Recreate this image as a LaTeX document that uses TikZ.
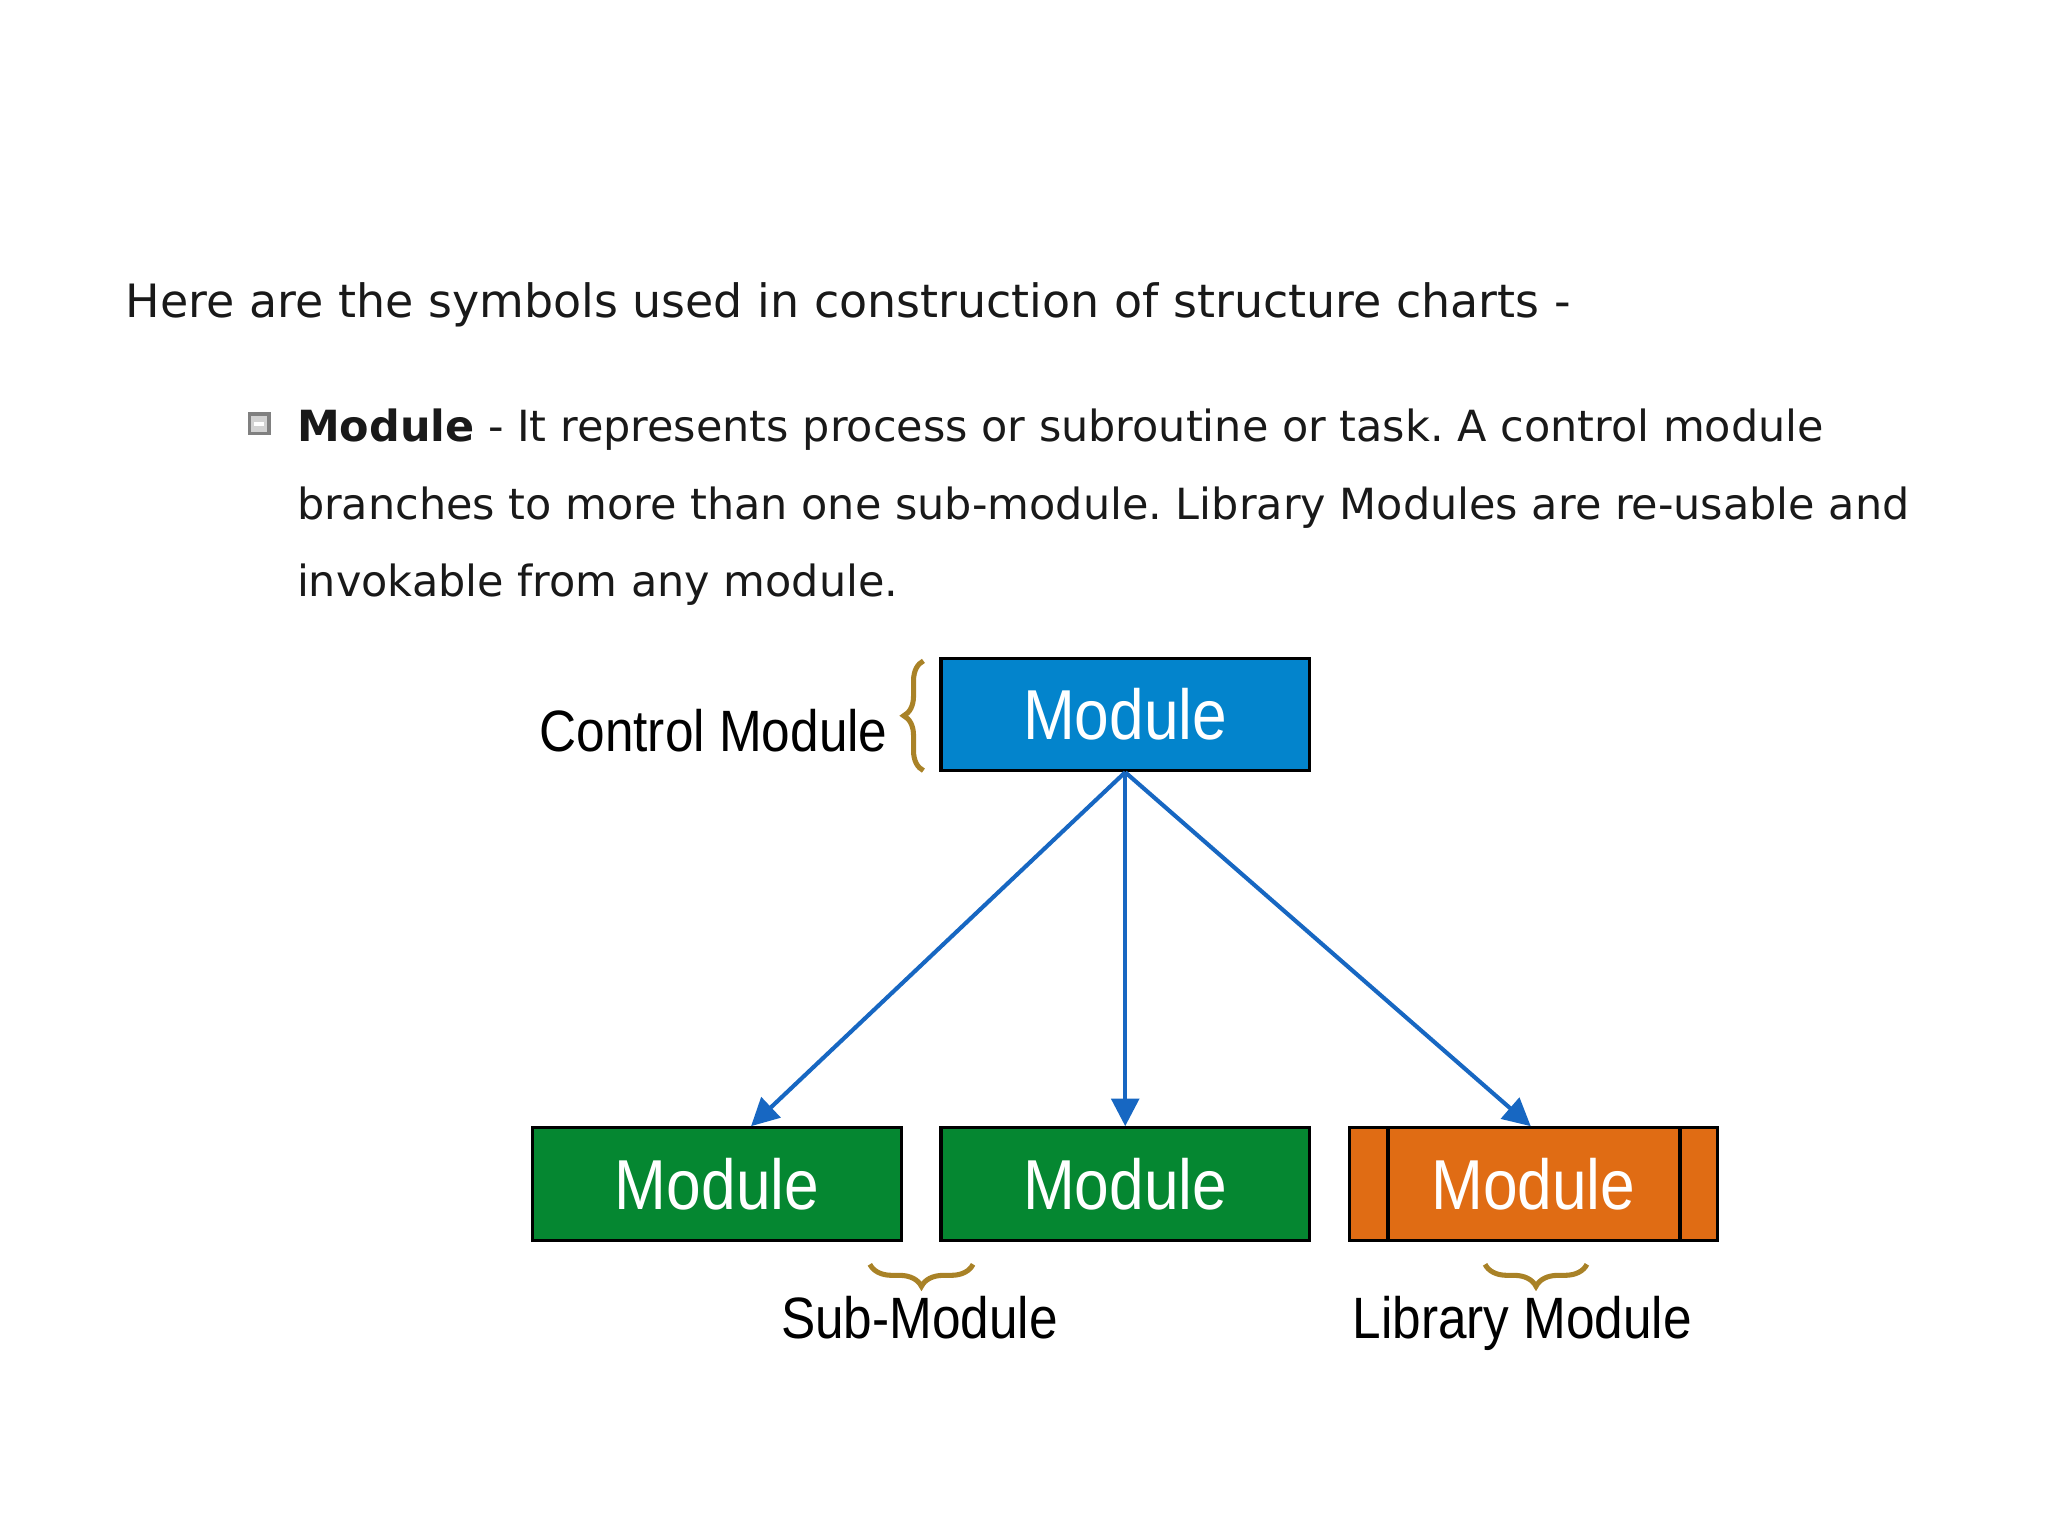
\documentclass[tikz,border=0pt]{standalone}
\usepackage{fontspec}
\usepackage{tikz}
\usetikzlibrary{arrows.meta, decorations.pathreplacing, positioning}
\newfontfamily\verd{DejaVu Sans}
\newfontfamily\arialn[FakeStretch=0.88]{Liberation Sans}
\definecolor{ctrlblue}{HTML}{0384CC}
\definecolor{subgreen}{HTML}{058731}
\definecolor{liborange}{HTML}{E06C14}
\definecolor{arrowblue}{HTML}{1767C2}
\definecolor{bracegold}{HTML}{A98227}
\tikzset{>=stealth}
\frenchspacing
\begin{document}
\begin{tikzpicture}[x=0.01cm, y=-0.01cm, thick,
	module/.style={draw=black, line width=0.7pt, minimum width=2.82cm, minimum height=0.86cm,
		inner sep=0pt, text=white, font=\arialn\fontsize{15.4pt}{15.4pt}\selectfont},
	label/.style={inner sep=0pt, font=\arialn\fontsize{12.7pt}{12.7pt}\selectfont},
	para/.style={inner sep=0pt, anchor=base west, text=black!90, font=\verd\fontsize{10pt}{12pt}\selectfont},
	item/.style={para, font=\verd\fontsize{9.35pt}{12pt}\selectfont},
	link/.style={-{Triangle[width=6pt,length=6pt]}, draw=arrowblue, line width=0.9pt},
	curly/.style={draw=bracegold, line width=1.1pt, decorate}]
	\useasboundingbox (0,0) rectangle (1568,1176);
	% text above the chart
	\node[para] (T0) at (95,243) {Here are the symbols used in construction of structure charts -};
	\node[item] (T1) at (226,338) {\textbf{Module} - It represents process or subroutine or task. A control module};
	\node[item] (T2) at (226,398) {branches to more than one sub-module. Library Modules are re-usable and};
	\node[item] (T3) at (226,457) {invokable from any module.};
	\node[draw=gray, fill=gray!35, minimum size=0.15cm, inner sep=0pt] (bul) at (198.5,324.5) {};
	\draw[white, line width=0.8pt] ([xshift=-0.04cm]bul.center) -- ([xshift=0.04cm]bul.center);
	% the chart
	\node[module, fill=ctrlblue] (A1) at (861.5,547) {Module};
	\node[module, fill=subgreen] (B1) at (549,906.5) {Module};
	\node[module, fill=subgreen] (B2) at (861.5,906.5) {Module};
	\node[module, fill=liborange] (B3) at (1174,906.5) {Module};
	\draw[line width=0.7pt] ([xshift=0.31cm]B3.north west) -- ([xshift=0.31cm]B3.south west);
	\draw[line width=0.7pt] ([xshift=-0.30cm]B3.north east) -- ([xshift=-0.30cm]B3.south east);
	\draw [link](A1.south)--([xshift=0.26cm]B1.north);
	\draw [link](A1.south)--(B2.north);
	\draw [link](A1.south)--([xshift=-0.02cm]B3.north);
	% braces and their labels
	\node[label, anchor=base east] (L0) at (681,575) {Control Module};
	\coordinate (c0) at (707,590); \coordinate (c1) at (707,506);
	\draw[curly, decoration={brace, amplitude=4.3pt}] (c0)--(c1);
	\coordinate (s0) at (745,968); \coordinate (s1) at (666,968);
	\draw[curly, decoration={brace, amplitude=4.8pt}] (s0)--(s1);
	\coordinate (l0) at (1215,968); \coordinate (l1) at (1137,968);
	\draw[curly, decoration={brace, amplitude=4.8pt}] (l0)--(l1);
	\node[label, anchor=base] (L1) at (704,1025) {Sub-Module};
	\node[label, anchor=base] (L2) at (1165.5,1025) {Library Module};
\end{tikzpicture}
\end{document}
